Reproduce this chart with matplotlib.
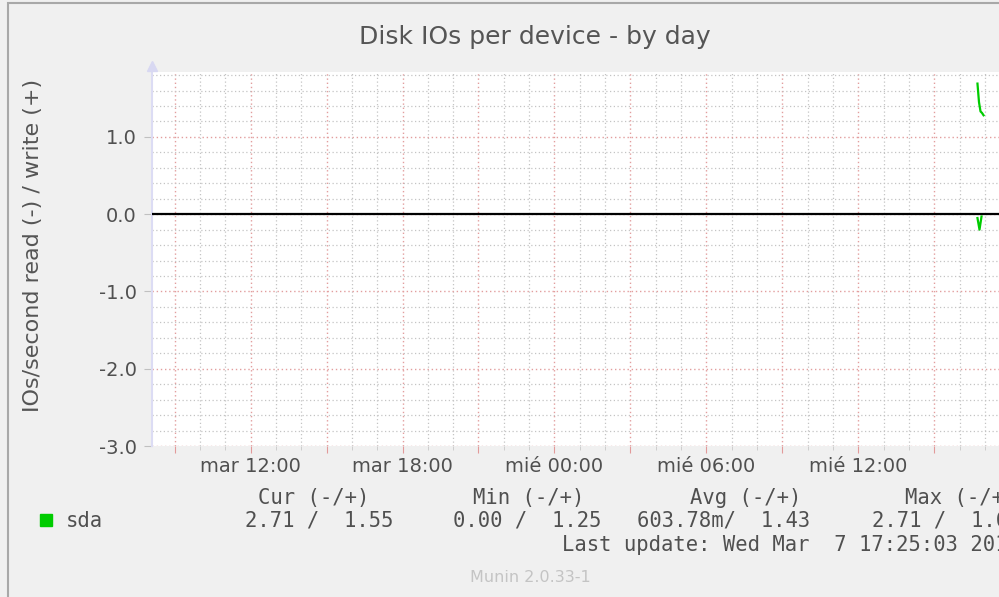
import numpy as np
import matplotlib
matplotlib.use("Agg")
import matplotlib.pyplot as plt
from matplotlib.ticker import FixedLocator
from matplotlib.patches import Rectangle

# ---- data (hours since Tue 00:00) ----
write_hours = [40.70, 40.76, 40.82, 40.88, 40.94]
write_vals = [1.69, 1.45, 1.33, 1.31, 1.28]
read_hours = [40.70, 40.78, 40.86]
read_vals = [-0.05, -0.20, -0.03]

xtick_hours = [12, 18, 24, 30, 36]
xtick_labels = ["mar 12:00", "mar 18:00", "mié 00:00", "mié 06:00", "mié 12:00"]
ytick_vals = [1.0, 0.0, -1.0, -2.0, -3.0]

legend_headers = ["Cur (-/+)", "Min (-/+)", "Avg (-/+)", "Max (-/+)"]
legend_values = ["2.71 /  1.55", "0.00 /  1.25", "603.78m/  1.43", "2.71 /  1.62"]
series_name = "sda"
last_update = "Last update: Wed Mar  7 17:25:03 2018"
version = "Munin 2.0.33-1"
title = "Disk IOs per device - by day"
ylabel = "IOs/second read (-) / write (+)"

W, H = 999, 597
fig = plt.figure(figsize=(W / 100, H / 100), dpi=100)
fig.patch.set_facecolor("#f0f0f0")

def fx(px):
    return px / W

def fy(py):
    return 1 - py / H

# outer frame
fig.add_artist(Rectangle((fx(8), fy(700)), 1.2, (700 - 3) / H, transform=fig.transFigure,
                         fill=False, edgecolor="#a8a8a8", lw=1.5))

ax = fig.add_axes([fx(152), fy(446), 1 - fx(152), (446 - 72) / H])
ax.set_facecolor("white")
ax.set_xlim(8.11, 41.55)
ax.set_ylim(-3.0, 1.84)

# grid positions
x_major = np.arange(9, 42, 3)
x_minor = [h for h in range(8, 42) if h % 3 != 0]
y_minor = [round(v / 5.0, 1) for v in range(-15, 10) if v % 5 != 0]

ax.xaxis.set_major_locator(FixedLocator(x_major))
ax.xaxis.set_minor_locator(FixedLocator(x_minor))
ax.yaxis.set_major_locator(FixedLocator(ytick_vals))
ax.yaxis.set_minor_locator(FixedLocator(y_minor))
ax.grid(which="minor", color="#c4c4c4", lw=0.9, ls=(0, (1, 2)))
ax.grid(which="major", color="#e29e9e", lw=1.0, ls=(0, (1, 2)))

labs = [xtick_labels[xtick_hours.index(h)] if h in xtick_hours else "" for h in x_major]
ax.set_xticks(x_major, labs)
ax.set_yticks(ytick_vals, ["%.1f" % v for v in ytick_vals])
ax.tick_params(axis="x", which="major", length=5, color="#e29a9a", labelsize=14,
               labelcolor="#505050", pad=3)
ax.tick_params(axis="x", which="minor", length=3, color="#c8c8c8")
ax.tick_params(axis="y", which="major", length=6, color="#c0c0c0", labelsize=14,
               labelcolor="#505050", pad=5)
ax.tick_params(axis="y", which="minor", length=0)

for s in ["top", "right", "bottom"]:
    ax.spines[s].set_visible(False)
ax.spines["left"].set_color("#dcdcf4")
ax.spines["left"].set_linewidth(1.5)
ax.plot([0], [1.0 + 6 / 374], transform=ax.transAxes, marker="^", color="#d8d8f2", ms=7,
        clip_on=False, zorder=5)

ax.axhline(0, color="#000000", lw=1.6, zorder=4)
ax.plot(write_hours, write_vals, color="#00cc00", lw=1.6, zorder=5)
ax.plot(read_hours, read_vals, color="#00cc00", lw=1.6, zorder=5)

fig.text(fx(535), fy(37), title, ha="center", va="center", fontsize=18, color="#555555")
fig.text(fx(33), fy(245), ylabel, ha="center", va="center", rotation=90,
         fontsize=16, color="#555555")

mono = dict(family="DejaVu Sans Mono", fontsize=14.8, color="#505050", va="center")
hx = [258, 473, 690, 905]
vx = [245, 453, 637, 872]
for x, t in zip(hx, legend_headers):
    fig.text(fx(x), fy(498), t, ha="left", **mono)
for x, t in zip(vx, legend_values):
    fig.text(fx(x), fy(521), t, ha="left", **mono)
fig.text(fx(66), fy(521), series_name, ha="left", **mono)
fig.add_artist(Rectangle((fx(40), fy(526)), 12 / W, 12 / H, transform=fig.transFigure,
                         color="#00cc00"))
fig.text(fx(562), fy(545), last_update, ha="left", **mono)
fig.text(fx(470), fy(577), version, ha="left", va="center", fontsize=11.5, color="#c4c4c4")

fig.savefig("out.png", dpi=100, facecolor=fig.get_facecolor())
